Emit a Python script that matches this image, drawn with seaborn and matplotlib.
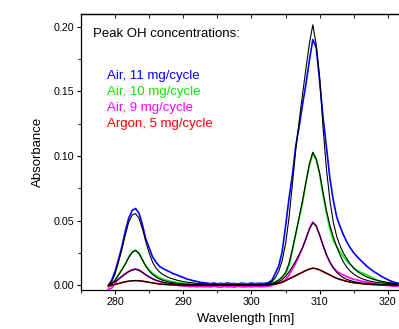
import numpy as np
import pandas as pd
import matplotlib
matplotlib.use("Agg")
import matplotlib.pyplot as plt
import seaborn as sns
from matplotlib.ticker import MultipleLocator

# ---------------- data ----------------
wavelength = np.arange(279.0, 321.51, 0.5)

air11 = [0.000, 0.004, 0.011, 0.020, 0.030, 0.042, 0.052, 0.058, 0.0595, 0.056, 0.047, 0.036, 0.029, 0.022, 0.018,
         0.0148, 0.0132, 0.0118, 0.0106, 0.0092, 0.0083, 0.0071, 0.0062, 0.0050, 0.0044, 0.0036, 0.0031, 0.0024, 0.0021,
         0.0018, 0.0014, 0.0019, 0.0012, 0.0017, 0.0013, 0.0020, 0.0014, 0.0016, 0.0011, 0.0018, 0.0015, 0.0013, 0.0019,
         0.0014, 0.0017, 0.0016,
         0.0017, 0.0022, 0.0040, 0.0094, 0.0150, 0.0260, 0.0455, 0.0670, 0.0850, 0.1080,
         0.1230, 0.1400, 0.1560, 0.1740, 0.1900, 0.1840, 0.1580, 0.1300, 0.1070, 0.0830,
         0.0660, 0.0530, 0.0455, 0.0390, 0.0335, 0.0290, 0.0252, 0.0222, 0.0195, 0.0170,
         0.0145, 0.0125, 0.0105, 0.0090, 0.0072, 0.0058, 0.0045, 0.0033, 0.0024, 0.0018]
air11_fit = [0.000, 0.003, 0.009, 0.018, 0.028, 0.039, 0.049, 0.0545, 0.0555, 0.052, 0.044, 0.034, 0.025, 0.018, 0.0135,
             0.0105, 0.0085, 0.0070, 0.0058, 0.0050, 0.0042, 0.0036, 0.0030, 0.0026, 0.0022, 0.0019, 0.0016, 0.0014, 0.0013,
             0.0012, 0.0012, 0.0011, 0.0011, 0.0011, 0.0011, 0.0010, 0.0010, 0.0010, 0.0010, 0.0010, 0.0010, 0.0010, 0.0010,
             0.0010, 0.0010, 0.0010,
             0.0012, 0.0016, 0.0030, 0.0060, 0.0110, 0.0190, 0.0320, 0.0520, 0.0780, 0.1050,
             0.1270, 0.1480, 0.1680, 0.1870, 0.2015, 0.1860, 0.1610, 0.1220, 0.0900, 0.0660,
             0.0490, 0.0380, 0.0305, 0.0250, 0.0205, 0.0165, 0.0135, 0.0110, 0.0092, 0.0077,
             0.0064, 0.0054, 0.0046, 0.0039, 0.0033, 0.0028, 0.0024, 0.0020, 0.0017, 0.0015]

air10 = [-0.0010, 0.0010, 0.0040, 0.0085, 0.0125, 0.0168, 0.0220, 0.0260, 0.0273, 0.0250, 0.0200, 0.0152, 0.0118, 0.0094,
         0.0076, 0.0061, 0.0049, 0.0041, 0.0033, 0.0029, 0.0024, 0.0020, 0.0017, 0.0013, 0.0012, 0.0010, 0.0011, 0.0008, 0.0010,
         0.0009, 0.0011, 0.0007, 0.0010, 0.0012, 0.0008, 0.0010, 0.0009, 0.0011, 0.0007, 0.0010, 0.0012, 0.0009, 0.0008,
         0.0011, 0.0010, 0.0009,
         0.0010, 0.0012, 0.0020, 0.0030, 0.0045, 0.0065, 0.0090, 0.0150, 0.0270, 0.0400,
         0.0520, 0.0640, 0.0800, 0.0930, 0.1020, 0.0970, 0.0860, 0.0700, 0.0560, 0.0440,
         0.0350, 0.0300, 0.0260, 0.0223, 0.0190, 0.0160, 0.0135, 0.0115, 0.0102, 0.0092,
         0.0080, 0.0065, 0.0052, 0.0040, 0.0030, 0.0022, 0.0017, 0.0013, 0.0010, 0.0010]
air10_fit = [0.0000, 0.0015, 0.0040, 0.0080, 0.0120, 0.0165, 0.0215, 0.0255, 0.0270, 0.0248, 0.0198, 0.0150, 0.0112, 0.0085,
             0.0065, 0.0050, 0.0040, 0.0032, 0.0026, 0.0021, 0.0017, 0.0014, 0.0012, 0.0010, 0.0008, 0.0007, 0.0006, 0.0006, 0.0005,
             0.0005, 0.0005, 0.0005, 0.0005, 0.0005, 0.0005, 0.0005, 0.0005, 0.0005, 0.0005, 0.0005, 0.0005, 0.0005, 0.0005,
             0.0005, 0.0005, 0.0005,
             0.0006, 0.0010, 0.0015, 0.0025, 0.0040, 0.0065, 0.0100, 0.0170, 0.0280, 0.0400,
             0.0530, 0.0660, 0.0800, 0.0940, 0.1030, 0.0980, 0.0870, 0.0720, 0.0580, 0.0465,
             0.0375, 0.0300, 0.0235, 0.0180, 0.0140, 0.0110, 0.0088, 0.0070, 0.0057, 0.0047,
             0.0039, 0.0032, 0.0027, 0.0023, 0.0020, 0.0017, 0.0015, 0.0013, 0.0011, 0.0010]

air9 = [-0.0030, -0.0020, 0.0015, 0.0050, 0.0072, 0.0092, 0.0110, 0.0122, 0.0128, 0.0120, 0.0102, 0.0083, 0.0066, 0.0052,
        0.0040, 0.0032, 0.0024, 0.0016, 0.0010, 0.0005, 0.0002, -0.0002, -0.0006, -0.0004, -0.0009, -0.0006, -0.0011, -0.0007, -0.0010,
        -0.0008, -0.0012, -0.0006, -0.0010, -0.0014, -0.0007, -0.0011, -0.0009, -0.0013, -0.0006, -0.0010, -0.0012, -0.0008,
        -0.0011, -0.0007, -0.0009, -0.0010,
        -0.0008, -0.0005, 0.0000, 0.0010, 0.0020, 0.0028, 0.0045, 0.0080, 0.0125, 0.0175,
        0.0230, 0.0290, 0.0365, 0.0440, 0.0490, 0.0460, 0.0390, 0.0310, 0.0235, 0.0180,
        0.0140, 0.0110, 0.0094, 0.0080, 0.0068, 0.0057, 0.0048, 0.0042, 0.0035, 0.0030,
        0.0025, 0.0020, 0.0015, 0.0010, 0.0006, 0.0003, 0.0000, -0.0003, -0.0005, -0.0005]
air9_fit = [0.0000, 0.0015, 0.0030, 0.0048, 0.0068, 0.0088, 0.0106, 0.0119, 0.0124, 0.0117, 0.0101, 0.0082, 0.0065, 0.0051,
            0.0040, 0.0032, 0.0025, 0.0020, 0.0016, 0.0013, 0.0010, 0.0008, 0.0006, 0.0005, 0.0004, 0.0003, 0.0003, 0.0002, 0.0002,
            0.0002, 0.0002, 0.0002, 0.0002, 0.0002, 0.0002, 0.0002, 0.0002, 0.0002, 0.0002, 0.0002, 0.0002, 0.0002, 0.0002,
            0.0002, 0.0002, 0.0002,
            0.0003, 0.0006, 0.0010, 0.0017, 0.0028, 0.0045, 0.0070, 0.0105, 0.0145, 0.0190,
            0.0240, 0.0295, 0.0360, 0.0435, 0.0485, 0.0460, 0.0390, 0.0310, 0.0240, 0.0180,
            0.0135, 0.0102, 0.0078, 0.0060, 0.0047, 0.0038, 0.0030, 0.0025, 0.0020, 0.0017,
            0.0014, 0.0012, 0.0010, 0.0009, 0.0008, 0.0007, 0.0006, 0.0005, 0.0005, 0.0004]

argon5 = [-0.0010, 0.0000, 0.0008, 0.0015, 0.0022, 0.0028, 0.0033, 0.0036, 0.0037, 0.0036, 0.0033, 0.0029, 0.0024, 0.0020,
          0.0016, 0.0012, 0.0009, 0.0007, 0.0005, 0.0003, 0.0002, 0.0002, 0.0001, 0.0002, 0.0000, 0.0001, 0.0002, 0.0000, 0.0001,
          0.0002, 0.0000, 0.0003, 0.0001, 0.0002, 0.0000, 0.0002, 0.0003, 0.0001, 0.0002, 0.0000, 0.0002, 0.0001, 0.0003,
          0.0002, 0.0001, 0.0002,
          0.0003, 0.0005, 0.0008, 0.0012, 0.0016, 0.0024, 0.0038, 0.0052, 0.0064, 0.0076,
          0.0090, 0.0102, 0.0115, 0.0127, 0.0133, 0.0129, 0.0120, 0.0106, 0.0095, 0.0082,
          0.0068, 0.0055, 0.0047, 0.0040, 0.0033, 0.0027, 0.0022, 0.0019, 0.0016, 0.0013,
          0.0010, 0.0008, 0.0006, 0.0005, 0.0004, 0.0003, 0.0003, 0.0002, 0.0002, 0.0002]
argon5_fit = [0.0000, 0.0004, 0.0009, 0.0015, 0.0022, 0.0029, 0.0034, 0.0037, 0.0038, 0.0037, 0.0034, 0.0029, 0.0024, 0.0019,
              0.0015, 0.0012, 0.0009, 0.0007, 0.0006, 0.0005, 0.0004, 0.0003, 0.0003, 0.0002, 0.0002, 0.0002, 0.0002, 0.0001, 0.0001,
              0.0001, 0.0001, 0.0001, 0.0001, 0.0001, 0.0001, 0.0001, 0.0001, 0.0001, 0.0001, 0.0001, 0.0001, 0.0001, 0.0001,
              0.0001, 0.0001, 0.0001,
              0.0002, 0.0004, 0.0007, 0.0011, 0.0017, 0.0025, 0.0036, 0.0049, 0.0062, 0.0076,
              0.0090, 0.0103, 0.0116, 0.0127, 0.0134, 0.0130, 0.0121, 0.0108, 0.0094, 0.0080,
              0.0067, 0.0056, 0.0046, 0.0038, 0.0031, 0.0025, 0.0021, 0.0017, 0.0014, 0.0012,
              0.0010, 0.0008, 0.0007, 0.0006, 0.0005, 0.0004, 0.0004, 0.0003, 0.0003, 0.0003]

series_labels = ["Air, 11 mg/cycle", "Air, 10 mg/cycle", "Air, 9 mg/cycle", "Argon, 5 mg/cycle"]
series_colors = ["#0000ff", "#00ee00", "#ff00ff", "#ff0000"]
measured = [air11, air10, air9, argon5]
fitted = [air11_fit, air10_fit, air9_fit, argon5_fit]

header_text = "Peak OH concentrations:"
x_label = "Wavelength [nm]"
y_label = "Absorbance"
x_ticks = [280, 290, 300, 310, 320]
y_ticks = [0.00, 0.05, 0.10, 0.15, 0.20]

# ---------------- style ----------------
sns.set_theme(style="ticks")
plt.rcParams["font.family"] = ["Liberation Sans", "DejaVu Sans"]

W, H = 399, 329
fig = plt.figure(figsize=(W / 100, H / 100), dpi=100)
ax_l, ax_r, ax_t, ax_b = 81, 411, 14, 290
ax = fig.add_axes([ax_l / W, (H - ax_b) / H, (ax_r - ax_l) / W, (ax_b - ax_t) / H])

for vals, col in zip(measured, series_colors):
    sns.lineplot(x=wavelength, y=vals, color=col, lw=1.2, ax=ax, estimator=None, sort=False)
for vals in fitted:
    sns.lineplot(x=wavelength, y=vals, color="black", lw=0.8, ax=ax, estimator=None, sort=False)

ax.set_xlim(275.0, 323.4)
ax.set_ylim(-0.0035, 0.2098)

ax.set_xticks(x_ticks)
ax.set_xticklabels([str(t) for t in x_ticks])
ax.xaxis.set_minor_locator(MultipleLocator(5))
ax.set_yticks(y_ticks)
ax.set_yticklabels([f"{t:.2f}" for t in y_ticks])
ax.yaxis.set_minor_locator(MultipleLocator(0.025))

ax.tick_params(axis="both", which="major", direction="out", length=3.2, width=0.8,
               labelsize=7.7, colors="black", pad=2)
ax.tick_params(axis="both", which="minor", direction="out", length=2.2, width=0.8)
ax.tick_params(axis="x", which="both", top=False, bottom=True)
ax.tick_params(axis="y", which="both", right=False, left=True)

sec = ax.secondary_xaxis("top")
sec.set_xticks([280, 285, 290, 295, 300, 305, 310, 315, 320])
sec.tick_params(direction="in", length=3.0, width=0.8, labeltop=False)
sec.set_xticklabels([])
sec.spines["top"].set_linewidth(0.9)

for s in ax.spines.values():
    s.set_linewidth(0.9)
    s.set_color("black")

ax.set_xlabel(x_label, fontsize=9.4, color="black")
ax.set_ylabel(y_label, fontsize=9.5, color="black")
ax.xaxis.set_label_coords(0.5, -0.085)
ax.yaxis.set_label_coords(-0.112, 0.5)

ax.text(0.036, 0.918, header_text, transform=ax.transAxes, fontsize=9.5,
        color="black", ha="left", va="baseline")
label_y = [0.7656, 0.7076, 0.6486, 0.5906]
for lab, col, yy in zip(series_labels, series_colors, label_y):
    ax.text(0.0773, yy, lab, transform=ax.transAxes, fontsize=9.5,
            color=col, ha="left", va="baseline")

fig.savefig("out.png", dpi=100)
